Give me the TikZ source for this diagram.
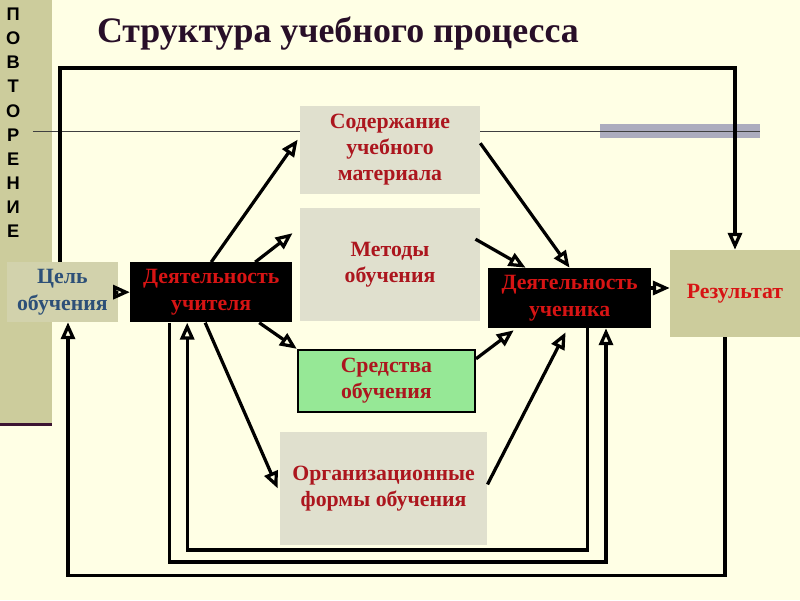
\documentclass[tikz,border=0pt]{standalone}
\usepackage{fontspec}
\setmainfont{Liberation Serif}
\newfontfamily\povtorfont{Liberation Sans}
\usepackage{tikz}
\usetikzlibrary{arrows.meta, positioning, calc}
\definecolor{bgcream}{RGB}{255,255,229}
\definecolor{stripkhaki}{RGB}{204,204,156}
\definecolor{goalkhaki}{RGB}{210,210,172}
\definecolor{boxgray}{RGB}{224,224,206}
\definecolor{toolgreen}{RGB}{150,232,150}
\definecolor{darkred}{RGB}{172,22,30}
\definecolor{brightred}{RGB}{215,20,20}
\definecolor{goalblue}{RGB}{45,80,120}
\definecolor{barbg}{RGB}{172,172,190}
\definecolor{titledark}{RGB}{40,15,40}
\definecolor{stripline}{RGB}{60,20,50}
\tikzstyle{boxtext} = [font=\bfseries\fontsize{15.5}{18.8}\selectfont, align=center, inner sep=2pt]
\tikzstyle{goal} = [boxtext, rectangle, minimum width=2.78cm, minimum height=1.5cm, fill=goalkhaki, text=goalblue]
\tikzstyle{activity} = [boxtext, rectangle, minimum width=4.05cm, minimum height=1.5cm, fill=black, text=brightred]
\tikzstyle{component} = [boxtext, rectangle, minimum width=4.5cm, minimum height=2.2cm, fill=boxgray, text=darkred]
\tikzstyle{tool} = [boxtext, rectangle, minimum width=4.43cm, minimum height=1.55cm, draw=black, line width=1.4pt, fill=toolgreen, text=darkred]
\tikzstyle{result} = [boxtext, rectangle, minimum width=3.25cm, minimum height=2.18cm, fill=stripkhaki, text=brightred]
\tikzstyle{arrow} = [line width=2.3pt, -{Triangle[open,length=12pt,width=10pt]}]
\tikzstyle{loop} = [line width=2.3pt]

\begin{document}
\begin{tikzpicture}

        \useasboundingbox [fill=bgcream] (0,0) rectangle (20,-15);

        % strip and template lines
        \fill [stripkhaki] (0,0) rectangle (1.3,-10.62);
        \draw [stripline, line width=2pt] (0,-10.62) -- (1.3,-10.62);
        \fill [barbg] (15,-3.1) rectangle (19,-3.45);
        \draw [black!75, line width=0.8pt] (0.82,-3.28) -- (19,-3.28);

        \node (povtor) [font=\povtorfont\bfseries\fontsize{13}{17.1}\selectfont, align=center, inner sep=0pt, anchor=north] at (0.33,-0.2) {П\\О\\В\\Т\\О\\Р\\Е\\Н\\И\\Е};
        \node (title) [font=\bfseries\fontsize{25.5}{30}\selectfont, text=titledark] at (8.45,-0.85) {Структура учебного процесса};

        \node (cel) [goal] at (1.56,-7.3) {Цель\\обучения};
        \node (uchitel) [activity] at (5.28,-7.31) {Деятельность\\учителя};
        \node (soderzh) [component] at (9.75,-3.74) {Содержание\\учебного\\материала};
        \node (metody) [component, minimum height=2.83cm, below=0.35cm of soderzh] {Методы\\обучения};
        \node (sredstva) [tool] at (9.66,-9.52) {Средства\\обучения};
        \node (orgformy) [component, minimum width=5.18cm, minimum height=2.83cm] at (9.59,-12.21) {Организационные\\формы обучения};
        \node (uchenik) [activity, minimum width=4.08cm] at (14.24,-7.45) {Деятельность\\ученика};
        \node (result) [result] at (18.375,-7.34) {Результат};

        % connection points of the loops
        \coordinate (top) at (18.375,-1.7);
        \coordinate (low1) at (0,-13.75);
        \coordinate (low2) at (0,-14.05);
        \coordinate (low3) at (0,-14.38);
        \coordinate (uch1) at ([xshift=-0.6cm]uchitel.south);
        \coordinate (uch2) at ([xshift=-1.05cm]uchitel.south);
        \coordinate (ucn1) at ([xshift=0.44cm]uchenik.south);
        \coordinate (ucn2) at ([xshift=0.91cm]uchenik.south);
        \coordinate (res1) at ([xshift=-0.25cm]result.south);
        \coordinate (cel1) at ([xshift=0.14cm]cel.south);

        \draw [arrow] (cel) -- (uchitel);
        \draw [arrow] (uchitel.north) -- ([xshift=-0.05cm,yshift=0.25cm]soderzh.west);
        \draw [arrow] ([xshift=1.1cm]uchitel.north) -- ([xshift=-0.18cm,yshift=0.79cm]metody.west);
        \draw [arrow] ([xshift=1.2cm]uchitel.south) -- (sredstva.north west);
        \draw [arrow] ([xshift=-0.15cm]uchitel.south) -- ([xshift=-0.05cm]orgformy.west);
        \draw [arrow] ([yshift=0.16cm]soderzh.east) -- (uchenik.north);
        \draw [arrow] ([xshift=-0.12cm,yshift=0.64cm]metody.east) -- ([xshift=-1.1cm]uchenik.north);
        \draw [arrow] ([yshift=-0.25cm]sredstva.north east) -- ([xshift=0.65cm,yshift=-0.05cm]uchenik.south west);
        \draw [arrow] ([yshift=0.1cm]orgformy.east) -- ([xshift=-0.1cm,yshift=-0.1cm]uchenik.south);
        \draw [arrow] ([yshift=0.25cm]uchenik.east) -- ([yshift=0.25cm]uchenik.east -| result.west);
        \draw [arrow] ([xshift=-0.06cm]cel.north) |- (top) -- (result.north);
        \draw [arrow] (ucn1) -- (ucn1 |- low1) -| (uch1);
        \draw [arrow] (uch2) -- (uch2 |- low2) -| (ucn2);
        \draw [arrow] (res1) -- (res1 |- low3) -| (cel1);

    \end{tikzpicture}
\end{document}
